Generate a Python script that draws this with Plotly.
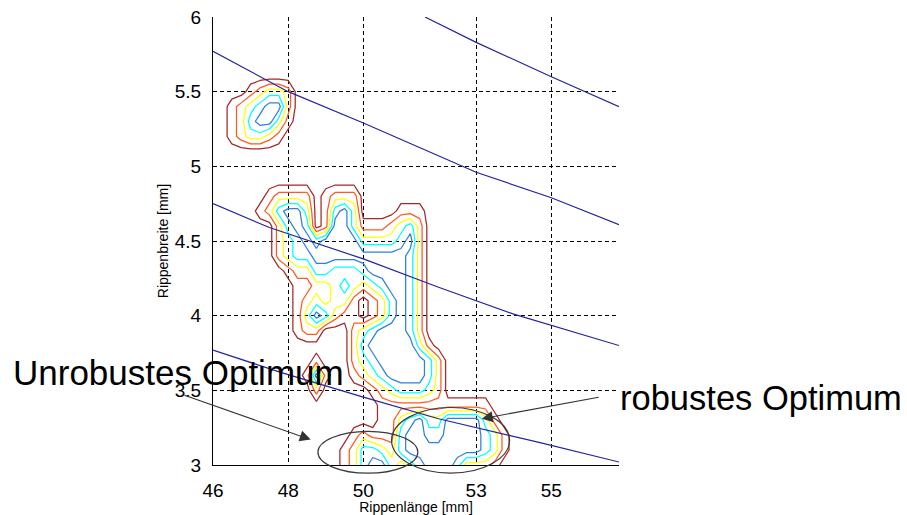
import plotly.graph_objects as go

# ---------------- data ----------------
# Axis ranges (mm)
x_range = [46.0, 56.8]
y_range = [3.0, 6.0]
x_tick_vals = [46, 48, 50, 53, 55]
x_tick_text = ["46", "48", "50", "53", "55"]
y_tick_vals = [3.0, 3.5, 4.0, 4.5, 5.0, 5.5, 6.0]
y_tick_text = ["3", "3.5", "4", "4.5", "5", "5.5", "6"]

# Grid of the robustness field: x every 0.25 mm, y every 0.1 mm
grid_x = [46.0 + 0.25 * i for i in range(36)]
grid_y_top_down = [round(6.0 - 0.1 * j, 2) for j in range(31)]

# band index sampled at each grid node (0 = outside, 5 = inside the innermost line)
# rows from y = 6.0 (top) down to y = 3.0 (bottom); blocks of 6 columns
band_rows = [
    "000000 000000 000000 000000 000000 000000",  # 6.0
    "000000 000000 000000 000000 000000 000000",  # 5.9
    "000000 000000 000000 000000 000000 000000",  # 5.8
    "000000 000000 000000 000000 000000 000000",  # 5.7
    "000000 000000 000000 000000 000000 000000",  # 5.6
    "000012 332000 000000 000000 000000 000000",  # 5.5
    "001234 552000 000000 000000 000000 000000",  # 5.4
    "001245 531000 000000 000000 000000 000000",  # 5.3
    "001233 210000 000000 000000 000000 000000",  # 5.2
    "000000 000000 000000 000000 000000 000000",  # 5.1
    "000000 000000 000000 000000 000000 000000",  # 5.0
    "000000 000000 000000 000000 000000 000000",  # 4.9
    "000000 122220 122200 000000 000000 000000",  # 4.8
    "000001 245530 145300 001110 000000 000000",  # 4.7
    "000000 024540 155311 123420 000000 000000",  # 4.6
    "000000 023454 555533 334520 000000 000000",  # 4.5
    "000000 023445 555555 555420 000000 000000",  # 4.4
    "000000 001224 433345 555420 000000 000000",  # 4.3
    "000000 000112 234323 455420 000000 000000",  # 4.2
    "000000 000123 233101 245420 000000 000000",  # 4.1
    "000000 000135 421101 245420 000000 000000",  # 4.0
    "000000 000122 000234 555420 000000 000000",  # 3.9
    "000000 000000 000245 555531 000000 000000",  # 3.8
    "000000 000001 000234 555554 200000 000000",  # 3.7
    "000000 000015 100123 455554 200000 000000",  # 3.6
    "000000 000002 000001 234443 200000 000000",  # 3.5
    "000000 000000 000000 111111 111111 000000",  # 3.4
    "000000 000000 000000 113453 355553 100000",  # 3.3
    "000000 000000 000121 114554 455554 310000",  # 3.2
    "000000 000000 001244 324555 555554 310000",  # 3.1
    "000000 000000 001245 532345 554222 100000",  # 3.0
]

# Design lines (constant-value curves)
line1_x = [51.64, 53.0, 55.0, 56.8]
line1_y = [6.00, 5.83, 5.60, 5.40]
line2_x = [46.0, 48.0, 50.0, 53.0, 55.0, 56.8]
line2_y = [5.77, 5.50, 5.29, 4.96, 4.79, 4.61]
line3_x = [46.0, 47.5, 50.0, 52.0, 54.0, 56.8]
line3_y = [4.75, 4.59, 4.38, 4.19, 4.01, 3.80]
line4_x = [46.0, 47.8, 50.0, 52.0, 54.7, 56.8]
line4_y = [3.77, 3.62, 3.455, 3.31, 3.15, 3.02]

contour_levels = [0.5, 1.5, 2.5, 3.5, 4.5]

# ---------------- styles ----------------
level_colors = ["#a3292b", "#ff5a1e", "#ffff00", "#00ffff", "#2f80e0"]
design_color = "#24249e"
FONT = "Arial, 'Liberation Sans', sans-serif"

z_top_down = [[int(c) for c in row.replace(" ", "")] for row in band_rows]
z = z_top_down[::-1]
grid_y = grid_y_top_down[::-1]

fig = go.Figure()

for lvl, col in zip(contour_levels, level_colors):
    fig.add_trace(go.Contour(
        x=grid_x, y=grid_y, z=z,
        autocontour=False,
        contours=dict(start=lvl, end=lvl + 0.5, size=1, coloring="lines"),
        colorscale=[[0, col], [1, col]],
        showscale=False,
        line=dict(width=1.25, smoothing=0),
        hoverinfo="skip",
    ))

for lx, ly in [(line1_x, line1_y), (line2_x, line2_y), (line3_x, line3_y), (line4_x, line4_y)]:
    fig.add_trace(go.Scatter(x=lx, y=ly, mode="lines",
                             line=dict(color=design_color, width=1.2),
                             hoverinfo="skip", showlegend=False))


def to_paper_x(v):
    return (v - x_range[0]) / (x_range[1] - x_range[0])


def to_paper_y(v):
    return (v - y_range[0]) / (y_range[1] - y_range[0])


# ellipses marking the optima (centre and half-axes in data units)
ellipses = [((50.12, 3.085), 1.33, 0.14), ((52.32, 3.165), 1.57, 0.22)]
shapes = []
for (cx, cy), rx, ry in ellipses:
    shapes.append(dict(type="circle", xref="paper", yref="paper",
                       x0=to_paper_x(cx - rx), x1=to_paper_x(cx + rx),
                       y0=to_paper_y(cy - ry), y1=to_paper_y(cy + ry),
                       line=dict(color="#3a3a3a", width=1.2)))

annotations = [
    dict(text="Unrobustes Optimum", xref="paper", yref="paper",
         x=to_paper_x(40.62), y=to_paper_y(3.622), xanchor="left", yanchor="middle",
         showarrow=False, font=dict(family=FONT, size=35, color="black")),
    dict(text="robustes Optimum", xref="paper", yref="paper",
         x=to_paper_x(56.78), y=to_paper_y(3.45), xanchor="left", yanchor="middle",
         showarrow=False, font=dict(family=FONT, size=34.5, color="black")),
    dict(text="", x=48.6, y=3.17, ax=45.2, ay=3.47, xref="x", yref="y",
         axref="x", ayref="y", showarrow=True, arrowhead=2, arrowsize=2,
         arrowwidth=1.1, arrowcolor="#333333"),
    dict(text="", x=53.15, y=3.31, ax=56.3, ay=3.455, xref="x", yref="y",
         axref="x", ayref="y", showarrow=True, arrowhead=2, arrowsize=2,
         arrowwidth=1.1, arrowcolor="#333333"),
]

fig.update_layout(
    width=907, height=515,
    margin=dict(l=213, r=288, t=17, b=50),
    paper_bgcolor="white", plot_bgcolor="white",
    showlegend=False,
    shapes=shapes, annotations=annotations,
    font=dict(family=FONT, color="black"),
)

fig.update_xaxes(
    range=x_range, tickvals=x_tick_vals, ticktext=x_tick_text, automargin=False,
    showgrid=True, gridcolor="black", gridwidth=1, griddash="4px,3px",
    showline=True, linecolor="black", linewidth=1, zeroline=False,
    ticks="", ticklabelstandoff=8, tickfont=dict(family=FONT, size=19, color="black"),
    title=dict(text="Rippenlänge [mm]", font=dict(family=FONT, size=14, color="black"), standoff=6),
)
fig.update_yaxes(
    range=y_range, tickvals=y_tick_vals, ticktext=y_tick_text, automargin=False,
    showgrid=True, gridcolor="black", gridwidth=1, griddash="4px,3px",
    showline=True, linecolor="black", linewidth=1, zeroline=False,
    ticks="", ticklabelstandoff=7, tickfont=dict(family=FONT, size=19, color="black"),
    title=dict(text="Rippenbreite [mm]", font=dict(family=FONT, size=14, color="black"), standoff=2),
)

fig.write_html("out.html")
